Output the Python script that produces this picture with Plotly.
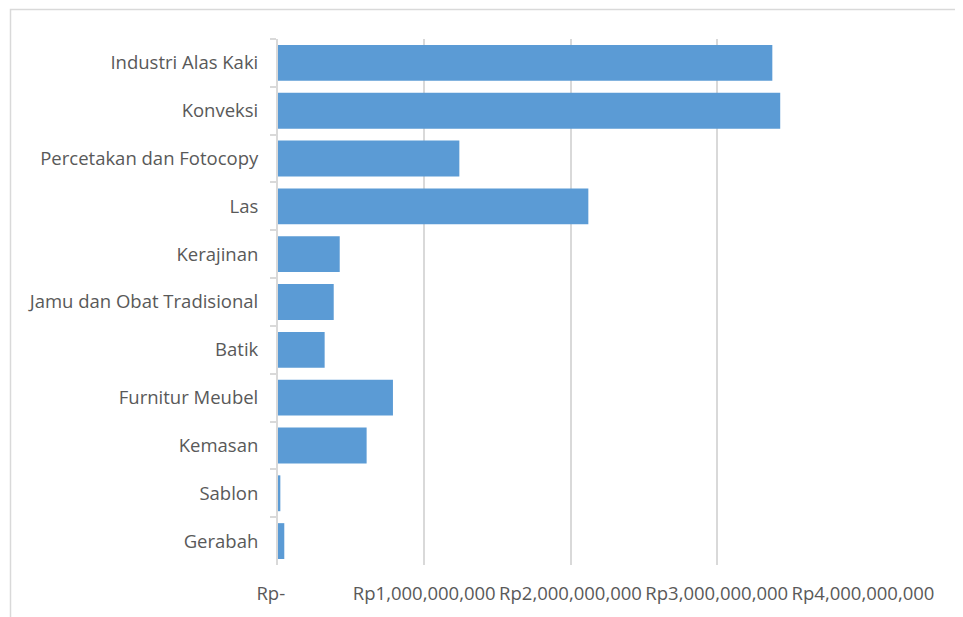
import plotly.graph_objects as go

categories = ["Industri Alas Kaki", "Konveksi", "Percetakan dan Fotocopy", "Las",
              "Kerajinan", "Jamu dan Obat Tradisional", "Batik", "Furnitur Meubel",
              "Kemasan", "Sablon", "Gerabah"]
values = [3.380e9, 3.434e9, 1.240e9, 2.122e9, 0.422e9, 0.381e9, 0.319e9,
          0.786e9, 0.606e9, 0.016e9, 0.043e9]
tick_vals = [0, 1e9, 2e9, 3e9, 4e9]
tick_text = ["Rp-\u00a0\u00a0\u00a0", "Rp1,000,000,000", "Rp2,000,000,000",
             "Rp3,000,000,000", "Rp4,000,000,000"]

FONT = "Open Sans"
GRID = "#d9d9d9"
TXT = "#595959"
FS = 18.5

fig = go.Figure(go.Bar(
    x=values, y=categories, orientation="h",
    marker=dict(color="#5b9bd5", line=dict(width=0)),
))

# page has an 8px body margin
W, H = 955, 609
L, R, T, B = 270, 100, 31, 52
pw, ph = W - L - R, H - T - B

fig.update_layout(
    width=W, height=H,
    margin=dict(l=L, r=R, t=T, b=B, pad=0, autoexpand=False),
    paper_bgcolor="white", plot_bgcolor="white",
    bargap=0.25,
    showlegend=False,
    font=dict(family=FONT, size=FS, color=TXT),
    xaxis=dict(range=[0, 4e9], tickvals=tick_vals, ticktext=tick_text,
               showgrid=True, gridcolor=GRID, gridwidth=2,
               zeroline=False, showline=False, ticks="", automargin=False,
               ticklabelstandoff=15,
               tickfont=dict(family=FONT, size=FS, color=TXT)),
    yaxis=dict(categoryorder="array", categoryarray=categories,
               autorange="reversed", showgrid=False, zeroline=False,
               showline=True, linecolor=GRID, linewidth=2, automargin=False,
               ticks="outside", tickson="boundaries", ticklen=6,
               tickcolor=GRID, tickwidth=1.5, ticklabelstandoff=14,
               tickfont=dict(family=FONT, size=FS, color=TXT)),
    shapes=[dict(type="rect", xref="paper", yref="paper",
                 x0=(2.5 - L) / pw, x1=(1000 - L) / pw,
                 y0=-(650 - (H - B)) / ph, y1=1 + (T - 1.5) / ph,
                 line=dict(color=GRID, width=1.5), fillcolor="rgba(0,0,0,0)",
                 layer="below")],
)

fig.write_html("out.html")
